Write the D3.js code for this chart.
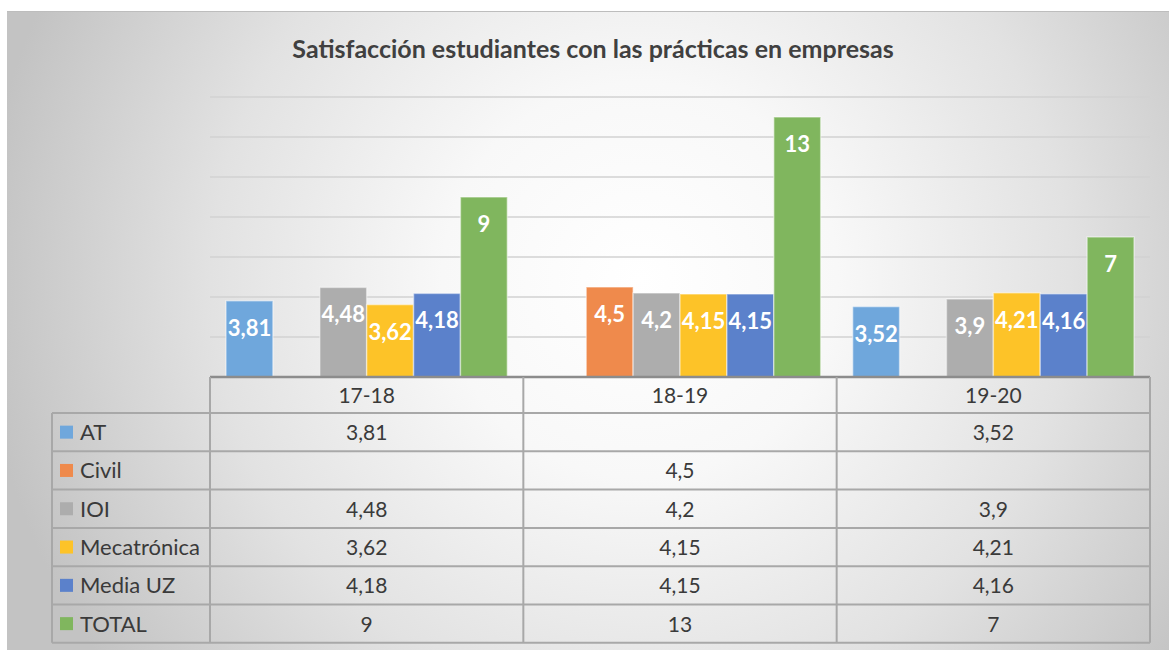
<!DOCTYPE html>
<html>
<head>
<meta charset="utf-8">
<script src="https://cdn.jsdelivr.net/npm/d3@7"></script>
<style>
  body { margin: 0; background: #fff; }
  svg text { font-family: Lato, "Open Sans", sans-serif; }
</style>
</head>
<body>
<div id="chart"></div>
<script>
var W = 1169, H = 650;

var categories = ["17-18", "18-19", "19-20"];
var seriesNames = ["AT", "Civil", "IOI", "Mecatrónica", "Media UZ", "TOTAL"];
var seriesColors = ["#6fa7dc", "#ef8a4c", "#adadad", "#fdc328", "#5b81cb", "#80b65e"];
var valAT = [3.81, null, 3.52];
var valCivil = [null, 4.5, null];
var valIOI = [4.48, 4.2, 3.9];
var valMeca = [3.62, 4.15, 4.21];
var valMedia = [4.18, 4.15, 4.16];
var valTotal = [9, 13, 7];
var yTicks = [0, 2, 4, 6, 8, 10, 12, 14];

var seriesValues = [valAT, valCivil, valIOI, valMeca, valMedia, valTotal];
var fmt = function(v){ return v == null ? "" : String(v).replace(".", ","); };

var svg = d3.select("#chart").append("svg")
  .attr("width", W).attr("height", H);

// background gradient
var defs = svg.append("defs");
var grad = defs.append("radialGradient")
  .attr("id", "bg").attr("gradientUnits", "userSpaceOnUse")
  .attr("cx", 640).attr("cy", 280).attr("r", 660);
grad.append("stop").attr("offset", "0").attr("stop-color", "#ffffff");
grad.append("stop").attr("offset", "0.3").attr("stop-color", "#f8f8f8");
grad.append("stop").attr("offset", "0.65").attr("stop-color", "#e2e2e2");
grad.append("stop").attr("offset", "1").attr("stop-color", "#c3c3c3");

svg.append("rect")
  .attr("x", 7).attr("y", 11).attr("width", W - 7).attr("height", H - 11)
  .attr("fill", "url(#bg)");
svg.append("line")
  .attr("x1", 7).attr("x2", W).attr("y1", 11.5).attr("y2", 11.5)
  .attr("stroke", "#bdbdbd");

svg.append("text")
  .attr("x", 593).attr("y", 58)
  .attr("text-anchor", "middle")
  .attr("font-size", 25).attr("font-weight", "bold")
  .attr("fill", "#404040")
  .text("Satisfacción estudiantes con las prácticas en empresas");

var plotL = 210, plotR = 1150, plotT = 97, plotB = 377;

var x = d3.scaleBand().domain(categories).range([plotL, plotR]);
var xs = d3.scaleBand().domain(seriesNames)
  .range([16, x.bandwidth() - 16]);
var y = d3.scaleLinear().domain([0, 14]).range([plotB, plotT]);

// gridlines
svg.append("g").selectAll("line")
  .data(yTicks.filter(function(d){ return d > 0; }))
  .join("line")
  .attr("x1", plotL).attr("x2", plotR)
  .attr("y1", function(d){ return y(d); })
  .attr("y2", function(d){ return y(d); })
  .attr("stroke", "#d2d2d2").attr("stroke-width", 1.5);

// bars
var bars = [];
seriesValues.forEach(function(vals, si){
  vals.forEach(function(v, ci){
    if (v != null) bars.push({s: seriesNames[si], si: si, c: categories[ci], v: v});
  });
});

var g = svg.append("g");
g.selectAll("rect").data(bars).join("rect")
  .attr("x", function(d){ return x(d.c) + xs(d.s); })
  .attr("y", function(d){ return y(d.v); })
  .attr("width", xs.bandwidth())
  .attr("height", function(d){ return plotB - y(d.v); })
  .attr("fill", function(d){ return seriesColors[d.si]; })
  .attr("stroke", "rgba(255,255,255,0.45)").attr("stroke-width", 1.5);

g.selectAll("text").data(bars).join("text")
  .attr("x", function(d){ return x(d.c) + xs(d.s) + xs.bandwidth() / 2; })
  .attr("y", function(d){ return y(d.v) + 35; })
  .attr("text-anchor", "middle")
  .attr("font-size", 22).attr("font-weight", "bold")
  .attr("fill", "#ffffff")
  .text(function(d){ return fmt(d.v); });

// data table
var tableL = 52, headT = plotB, headB = 413, rowH = 38.3;
var rowY = d3.scaleBand().domain(seriesNames)
  .range([headB, headB + rowH * seriesNames.length]);
var tableB = headB + rowH * seriesNames.length;
var lineColor = "#a8a8a8";
var tg = svg.append("g");

// header row
categories.forEach(function(c){
  tg.append("text")
    .attr("x", x(c) + x.bandwidth() / 2).attr("y", (headT + headB) / 2 + 8)
    .attr("text-anchor", "middle").attr("font-size", 21).attr("fill", "#3a3a3a")
    .text(c);
});

// rows
seriesNames.forEach(function(s, si){
  var ry = rowY(s);
  tg.append("rect")
    .attr("x", 60).attr("y", ry + rowH / 2 - 6.5).attr("width", 13).attr("height", 13)
    .attr("fill", seriesColors[si]);
  tg.append("text")
    .attr("x", 80).attr("y", ry + rowH / 2 + 8)
    .attr("font-size", 22).attr("fill", "#3a3a3a")
    .text(s);
  categories.forEach(function(c, ci){
    tg.append("text")
      .attr("x", x(c) + x.bandwidth() / 2).attr("y", ry + rowH / 2 + 8)
      .attr("text-anchor", "middle").attr("font-size", 21).attr("fill", "#3a3a3a")
      .text(fmt(seriesValues[si][ci]));
  });
});

// table lines
var hLines = seriesNames.map(function(s){ return rowY(s); }).concat([tableB]);
tg.selectAll("line.h").data(hLines).join("line")
  .attr("class", "h")
  .attr("x1", tableL).attr("x2", plotR)
  .attr("y1", function(d){ return d; }).attr("y2", function(d){ return d; })
  .attr("stroke", lineColor).attr("stroke-width", 2);
// category axis line (top of table)
tg.append("line")
  .attr("x1", plotL).attr("x2", plotR).attr("y1", headT).attr("y2", headT)
  .attr("stroke", "#8c8c8c").attr("stroke-width", 2.5);
var vLines = categories.map(function(c){ return x(c); }).concat([plotR]);
tg.selectAll("line.v").data(vLines).join("line")
  .attr("class", "v")
  .attr("x1", function(d){ return d; }).attr("x2", function(d){ return d; })
  .attr("y1", headT).attr("y2", tableB)
  .attr("stroke", lineColor).attr("stroke-width", 2);
tg.append("line")
  .attr("x1", tableL).attr("x2", tableL).attr("y1", headB).attr("y2", tableB)
  .attr("stroke", lineColor).attr("stroke-width", 2);
</script>
</body>
</html>
